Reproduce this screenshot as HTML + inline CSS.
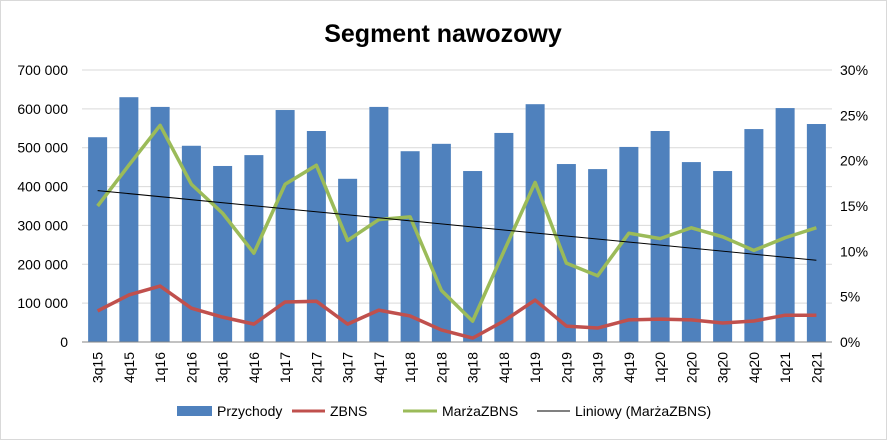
<!DOCTYPE html>
<html><head><meta charset="utf-8"><style>
html,body{margin:0;padding:0;background:#fff;}
svg{display:block;font-family:"Liberation Sans",sans-serif;}
</style></head><body>
<svg id="chart" width="887" height="440">
<rect x="0.5" y="0.5" width="886" height="439" fill="#fff" stroke="#d9d9d9"/>
<text x="443" y="42" text-anchor="middle" font-size="25" font-weight="bold" fill="#000">Segment nawozowy</text>
<g id="grid"></g><g id="bars"></g><g id="lines"></g><g id="axes"></g>
<g>
<rect x="177" y="406" width="35" height="10" fill="#4F81BD"/>
<text x="217" y="416" font-size="14">Przychody</text>
<line x1="292" y1="411" x2="325" y2="411" stroke="#C0504D" stroke-width="3"/>
<text x="330" y="416" font-size="14">ZBNS</text>
<line x1="403" y1="411" x2="437" y2="411" stroke="#9BBB59" stroke-width="3"/>
<text x="442" y="416" font-size="14">MarżaZBNS</text>
<line x1="537" y1="411" x2="570" y2="411" stroke="#000" stroke-width="1"/>
<text x="575" y="416" font-size="14">Liniowy (MarżaZBNS)</text>
</g>
</svg>
<script>
const categories=["3q15","4q15","1q16","2q16","3q16","4q16","1q17","2q17","3q17","4q17","1q18","2q18","3q18","4q18","1q19","2q19","3q19","4q19","1q20","2q20","3q20","4q20","1q21","2q21"];
const przychody=[527000,630000,605000,505000,453000,481000,597000,543000,420000,605000,491000,510000,440000,538000,612000,458000,445000,502000,543000,463000,440000,548000,602000,561000];
const zbns=[80000,121000,144000,87000,64000,46000,103000,105000,46000,82000,67000,31000,10000,54000,108000,41000,36000,57000,59000,57000,49000,54000,69000,69000];
const marza=[15.0,19.5,23.9,17.4,14.2,9.8,17.4,19.5,11.2,13.5,13.8,5.7,2.3,10.0,17.6,8.7,7.3,12.0,11.4,12.6,11.6,10.1,11.5,12.6];
const leftTicks=["0","100 000","200 000","300 000","400 000","500 000","600 000","700 000"];
const rightTicks=["0%","5%","10%","15%","20%","25%","30%"];
const NS="http://www.w3.org/2000/svg";
const L=82,R=832,T=70,B=342;
const bw=(R-L)/categories.length;
const xc=i=>L+bw*(i+0.5);
const yL=v=>B-(v/700000)*(B-T);
const yR=v=>B-(v/30)*(B-T);
function mk(tag,attrs,parent){const e=document.createElementNS(NS,tag);for(const k in attrs)e.setAttribute(k,attrs[k]);document.getElementById(parent).appendChild(e);return e;}
leftTicks.forEach((t,i)=>{const y=yL(i*100000);
 const g=mk("line",{x1:L,x2:R,y1:y,y2:y,stroke:"#d9d9d9"},"grid");
 
 
 const tx=mk("text",{x:68,y:y+5,"text-anchor":"end","font-size":"14"},"axes");tx.textContent=t;
 
 
});
rightTicks.forEach((t,i)=>{const y=yR(i*5);
 const tx=mk("text",{x:840,y:y+5,"font-size":"14"},"axes");tx.textContent=t;
 
 
});
const ax=mk("line",{x1:L,x2:R,y1:B,y2:B,stroke:"#868686"},"axes");


categories.forEach((c,i)=>{
 const r=mk("rect",{x:xc(i)-9.5,y:yL(przychody[i]),width:19,height:B-yL(przychody[i]),fill:"#4F81BD"},"bars");
 
 
 const tx=mk("text",{x:0,y:0,"font-size":"14","text-anchor":"end",transform:`translate(${xc(i)+5},352) rotate(-90)`},"axes");tx.textContent=c;
 
 
});
const p1=mk("polyline",{points:zbns.map((v,i)=>xc(i)+","+yL(v)).join(" "),fill:"none",stroke:"#C0504D","stroke-width":3.5,"stroke-linejoin":"round"},"lines");


const p2=mk("polyline",{points:marza.map((v,i)=>xc(i)+","+yR(v)).join(" "),fill:"none",stroke:"#9BBB59","stroke-width":3.5,"stroke-linejoin":"round"},"lines");


const n=marza.length;let sx=0,sy=0,sxy=0,sxx=0;
marza.forEach((v,i)=>{sx+=i;sy+=v;sxy+=i*v;sxx+=i*i;});
const m=(n*sxy-sx*sy)/(n*sxx-sx*sx),b=(sy-m*sx)/n;
const tl=mk("line",{x1:xc(0),y1:yR(b),x2:xc(n-1),y2:yR(b+m*(n-1)),stroke:"#000","stroke-width":1},"lines");


</script>
</body></html>
